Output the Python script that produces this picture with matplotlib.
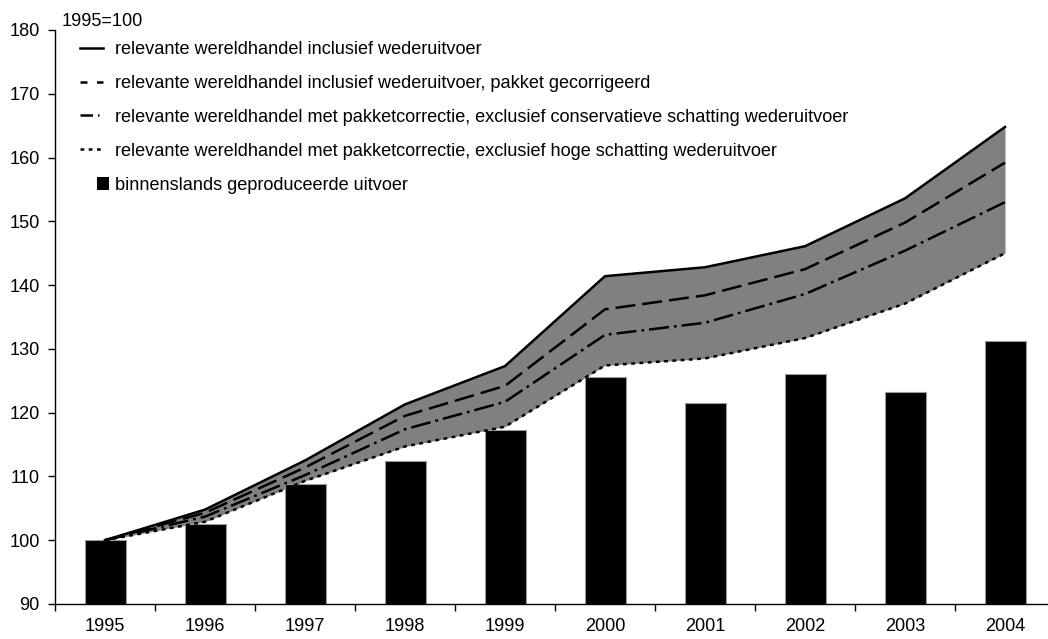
import matplotlib

matplotlib.use("Agg")
import matplotlib.pyplot as plt
from matplotlib.legend_handler import HandlerPatch
from matplotlib.lines import Line2D
from matplotlib.patches import Patch, Rectangle
import numpy as np

plt.rcParams["font.family"] = ["Liberation Sans", "DejaVu Sans"]

years = ["1995", "1996", "1997", "1998", "1999", "2000", "2001", "2002", "2003", "2004"]

# index 1995=100
incl_reexport = [100.0, 104.8, 112.5, 121.3, 127.3, 141.4, 142.8, 146.1, 153.6, 164.8]
incl_reexport_pkg = [100.0, 104.3, 111.4, 119.5, 124.2, 136.2, 138.4, 142.5, 149.8, 159.2]
excl_conservative = [100.0, 103.7, 110.2, 117.4, 121.7, 132.2, 134.1, 138.6, 145.4, 153.0]
excl_high = [100.0, 102.9, 109.3, 114.7, 117.8, 127.4, 128.5, 131.7, 137.1, 145.0]
domestic_exports = [100.0, 102.5, 108.8, 112.5, 117.3, 125.6, 121.5, 126.0, 123.2, 131.3]

labels = [
    "relevante wereldhandel inclusief wederuitvoer",
    "relevante wereldhandel inclusief wederuitvoer, pakket gecorrigeerd",
    "relevante wereldhandel met pakketcorrectie, exclusief conservatieve schatting wederuitvoer",
    "relevante wereldhandel met pakketcorrectie, exclusief hoge schatting wederuitvoer",
    "binnenslands geproduceerde uitvoer",
]

FS = 13.1
W, H = 1048, 639
fig = plt.figure(figsize=(W / 100, H / 100), dpi=100)
ax = fig.add_axes([55 / W, (H - 604) / H, 1000 / W, 574 / H])

x = np.arange(len(years))
ax.bar(x, np.array(domestic_exports) - 90, bottom=90, width=0.41,
       color="black", edgecolor="#9a9a9a", linewidth=0.8, zorder=2)

# dash patterns (in units of line width)
dash = (0, (8, 2.8))
dashdot = (0, (8, 2, 1.1, 2))
dots = (0, (1.5, 1.8))
ax.fill_between(x, excl_high, incl_reexport, color="#808080", linewidth=0, zorder=1)
ax.plot(x, incl_reexport, color="black", lw=1.8, zorder=3)
ax.plot(x, incl_reexport_pkg, color="black", lw=1.8, ls=dash, zorder=3)
ax.plot(x, excl_conservative, color="black", lw=1.8, ls=dashdot, zorder=3)
ax.plot(x, excl_high, color="black", lw=1.8, ls=dots, zorder=3)

ax.set_xlim(-0.5, 9.5)
ax.set_ylim(90, 180)
ax.set_yticks(range(90, 181, 10))
ax.set_xticks(x)
ax.set_xticklabels(years)
ax.set_xticks(np.arange(-0.5, 9.0, 1.0), minor=True)
ax.tick_params(axis="x", which="major", length=0, pad=10, labelsize=FS)
ax.tick_params(axis="x", which="minor", length=5, width=1, direction="out")
ax.tick_params(axis="y", length=5, width=1, direction="out", labelsize=FS, pad=6)
for s in ("top", "right"):
    ax.spines[s].set_visible(False)
for s in ("left", "bottom"):
    ax.spines[s].set_linewidth(1)

fig.text(62 / W, 1 - 22 / H, "1995=100", fontsize=FS, va="center", ha="left")


def square(legend, orig_handle, xdescent, ydescent, width, height, fontsize):
    return Rectangle((12 - xdescent, (height - 9) / 2 - ydescent), 9, 9)


handles = [
    Line2D([], [], color="black", lw=1.8),
    Line2D([], [], color="black", lw=1.8, ls=(0, (2.8, 3.8))),
    Line2D([], [], color="black", lw=1.8, ls=(0, (5, 2, 0.6, 5))),
    Line2D([], [], color="black", lw=1.8, ls=dots),
    Patch(facecolor="black", edgecolor="none"),
]
ax.legend(handles, labels, loc="upper left", bbox_to_anchor=(80 / W, 1 - 41 / H),
          bbox_transform=fig.transFigure, frameon=False, fontsize=FS,
          handlelength=1.28, handletextpad=0.65, labelspacing=0.93,
          borderaxespad=0, borderpad=0,
          handler_map={Patch: HandlerPatch(patch_func=square)})

fig.savefig("out.png", dpi=100)
